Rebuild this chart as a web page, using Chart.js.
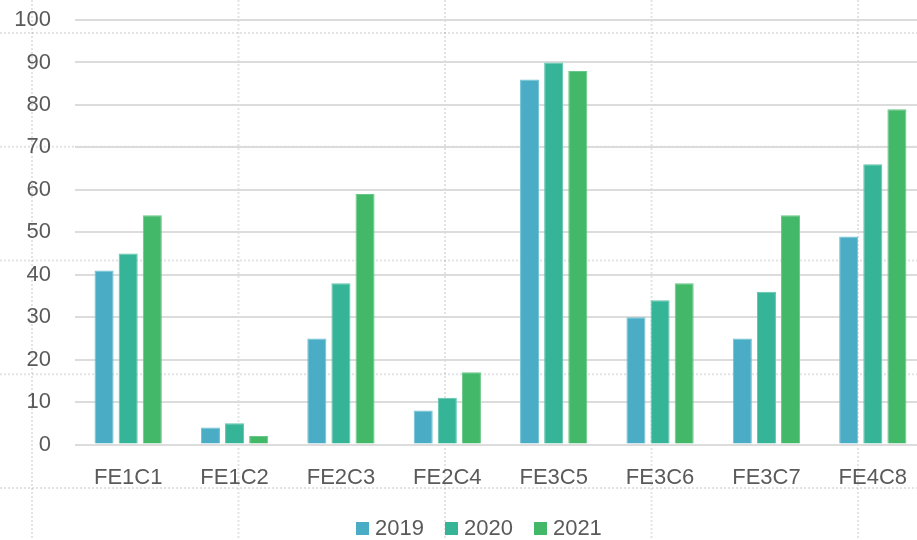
<!DOCTYPE html>
<html>
<head>
<meta charset="utf-8">
<script src="https://cdn.jsdelivr.net/npm/chart.js@4/dist/chart.umd.min.js"></script>
<style>
  html, body { margin: 0; padding: 0; background: #ffffff; }
  #wrap { width: 917px; height: 540px; position: relative; overflow: hidden; }
  #c { position: absolute; left: 0; top: 0; }
  #legend { position: absolute; left: 356px; top: 515px; height: 26px; display: flex; align-items: center;
            font-family: "Liberation Sans", Arial, sans-serif; font-size: 22px; color: #5a5a5a; }
  #legend .item { display: flex; align-items: center; margin-right: 21px; }
  #legend .box { width: 13px; height: 13px; margin-right: 6px; }
</style>
</head>
<body>
<div id="wrap"><canvas id="c" width="926" height="540"></canvas><div id="legend"></div></div>
<script>
const categories = ['FE1C1', 'FE1C2', 'FE2C3', 'FE2C4', 'FE3C5', 'FE3C6', 'FE3C7', 'FE4C8'];
const seriesNames = ['2019', '2020', '2021'];
const values2019 = [41, 4, 25, 8, 86, 30, 25, 49];
const values2020 = [45, 5, 38, 11, 90, 34, 36, 66];
const values2021 = [54, 2, 59, 17, 88, 38, 54, 79];
const yTicks = [0, 10, 20, 30, 40, 50, 60, 70, 80, 90, 100];
const colors = ['#4AADC5', '#36B497', '#42B868'];
const borders = ['#6FC0D3', '#5DC4AC', '#68C786'];

const bgGrid = {
  id: 'bgGrid',
  beforeDraw(chart) {
    const ctx = chart.ctx;
    ctx.save();
    ctx.strokeStyle = 'rgba(0,0,0,0.11)';
    ctx.lineWidth = 2;
    ctx.setLineDash([2, 2]);
    for (let k = 0; k < 5; k++) {
      const x = 32 + k * 206.5;
      ctx.beginPath(); ctx.moveTo(x, 0); ctx.lineTo(x, chart.height); ctx.stroke();
      const y = 33 + k * 113.75;
      ctx.beginPath(); ctx.moveTo(0, y); ctx.lineTo(chart.width, y); ctx.stroke();
    }
    ctx.restore();
  }
};

const font = { family: '"Liberation Sans", Arial, sans-serif', size: 22 };
const textColor = '#5a5a5a';

new Chart(document.getElementById('c'), {
  type: 'bar',
  data: {
    labels: categories,
    datasets: [values2019, values2020, values2021].map((v, i) => ({
      label: seriesNames[i],
      data: v,
      backgroundColor: colors[i],
      borderColor: borders[i],
      borderWidth: 1,
      categoryPercentage: 0.68,
      barPercentage: 0.79
    }))
  },
  options: {
    responsive: false,
    animation: false,
    layout: { padding: { left: 0, right: 0, top: 20, bottom: 49.5 } },
    plugins: {
      legend: { display: false },
      tooltip: { enabled: false }
    },
    scales: {
      x: {
        grid: { display: false, drawTicks: false },
        border: { display: false },
        ticks: { font: font, color: textColor, padding: 20, maxRotation: 0 },
        afterFit(s) { s.height = 46; s.paddingLeft = 0; s.paddingRight = 0; }
      },
      y: {
        min: 0, max: 100,
        grid: { color: '#dcdcdc', lineWidth: 2, drawTicks: false },
        border: { display: false },
        afterBuildTicks(s) { s.ticks = yTicks.map(v => ({ value: v })); },
        ticks: { font: font, color: textColor, padding: 24 },
        afterFit(s) { s.width = 75; s.paddingTop = 0; s.paddingBottom = 0; }
      }
    }
  },
  plugins: [bgGrid]
});

const legend = document.getElementById('legend');
seriesNames.forEach((name, i) => {
  const item = document.createElement('div');
  item.className = 'item';
  const box = document.createElement('span');
  box.className = 'box';
  box.style.background = colors[i];
  const txt = document.createElement('span');
  txt.textContent = name;
  item.appendChild(box); item.appendChild(txt);
  legend.appendChild(item);
});
</script>
</body>
</html>
